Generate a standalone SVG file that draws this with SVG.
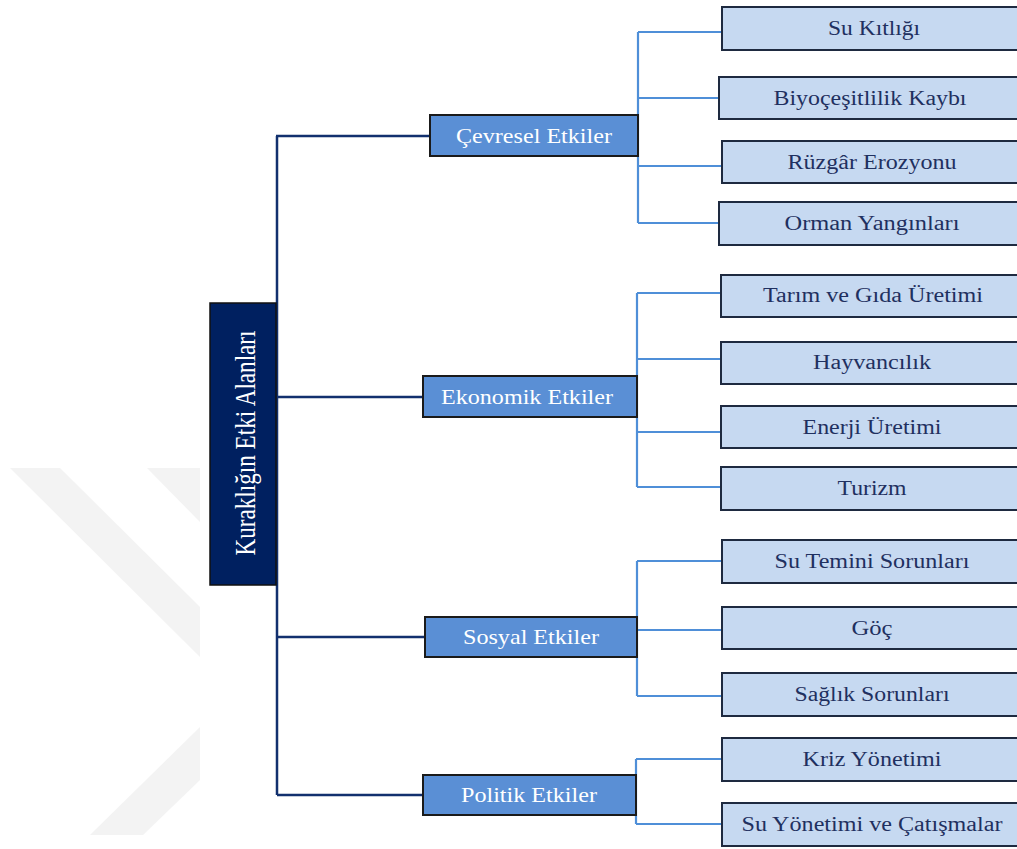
<svg xmlns="http://www.w3.org/2000/svg" width="1017" height="849" viewBox="0 0 1017 849">
<style>
.wm{fill:#f3f3f3}
.trunk{stroke:#12306e;stroke-width:2.5;fill:none}
.br{stroke:#4f8fd8;stroke-width:2.2;fill:none}
.root{fill:#002060;stroke:#111;stroke-width:1.5}
.l1{fill:#5a8fd5;stroke:#1a1a1a;stroke-width:2}
.leaf{fill:#c6d9f1;stroke:#1e2a40;stroke-width:2}
text{text-anchor:middle;dominant-baseline:central}
.tl{font-size:20px;fill:#1f3060}
.t1{font-size:21px;fill:#ffffff}
.tr{font-size:27px;fill:#ffffff}
</style>
<rect width="1017" height="849" fill="#ffffff"/>
<g id="watermark">
<polygon class="wm" points="10,468 60,468 200,607 200,657"/>
<polygon class="wm" points="147,468 200,468 200,522"/>
<polygon class="wm" points="200,727 200,780 143,835 90,835"/>
</g>
<g id="connectors">
<path class="trunk" d="M276,136 H277 V795 M277,136 H430 M277,397 H423 M277,637 H425 M277,795 H423"/>
<path class="br" d="M638,32 V223 M638,32 H722 M638,98 H719 M638,166 H722 M638,223 H719"/>
<path class="br" d="M637,293 V487 M637,293 H721 M637,359 H721 M637,432 H721 M637,487 H721"/>
<path class="br" d="M637,561 V696 M637,561 H722 M637,630 H722 M637,696 H722"/>
<path class="br" d="M636,759 V824 M636,759 H722 M636,824 H722"/>
</g>
<g font-family="'Liberation Serif', 'DejaVu Serif', serif">
<g id="root">
<rect class="root" x="210" y="303" width="66" height="282"/>
<text class="tr" transform="translate(245,443) scale(1.1,1) rotate(-90)" textLength="225" lengthAdjust="spacingAndGlyphs">Kuraklığın Etki Alanları</text>
</g>
<g id="cevresel">
<rect class="l1" x="430" y="115" width="208" height="41"/>
<text class="t1" x="534" y="136" textLength="156" lengthAdjust="spacingAndGlyphs">Çevresel Etkiler</text>
</g>
<g id="ekonomik">
<rect class="l1" x="423" y="376" width="214" height="41"/>
<text class="t1" x="527" y="397" textLength="172" lengthAdjust="spacingAndGlyphs">Ekonomik Etkiler</text>
</g>
<g id="sosyal">
<rect class="l1" x="425" y="617" width="212" height="40"/>
<text class="t1" x="531" y="637" textLength="136" lengthAdjust="spacingAndGlyphs">Sosyal Etkiler</text>
</g>
<g id="politik">
<rect class="l1" x="423" y="775" width="213" height="40"/>
<text class="t1" x="529" y="795" textLength="136" lengthAdjust="spacingAndGlyphs">Politik Etkiler</text>
</g>
<g id="su-kitligi"><rect class="leaf" x="722" y="7" width="300" height="43"/><text class="tl" x="874" y="28" textLength="92" lengthAdjust="spacingAndGlyphs">Su Kıtlığı</text></g>
<g id="biyocesitlilik"><rect class="leaf" x="719" y="77" width="303" height="42"/><text class="tl" x="870" y="98" textLength="193" lengthAdjust="spacingAndGlyphs">Biyoçeşitlilik Kaybı</text></g>
<g id="ruzgar"><rect class="leaf" x="722" y="141" width="300" height="42"/><text class="tl" x="872" y="162" textLength="169" lengthAdjust="spacingAndGlyphs">Rüzgâr Erozyonu</text></g>
<g id="orman"><rect class="leaf" x="719" y="202" width="303" height="43"/><text class="tl" x="872" y="223" textLength="175" lengthAdjust="spacingAndGlyphs">Orman Yangınları</text></g>
<g id="tarim"><rect class="leaf" x="721" y="275" width="301" height="42"/><text class="tl" x="873" y="295" textLength="220" lengthAdjust="spacingAndGlyphs">Tarım ve Gıda Üretimi</text></g>
<g id="hayvancilik"><rect class="leaf" x="721" y="342" width="301" height="42"/><text class="tl" x="872" y="362" textLength="118" lengthAdjust="spacingAndGlyphs">Hayvancılık</text></g>
<g id="enerji"><rect class="leaf" x="721" y="406" width="301" height="42"/><text class="tl" x="872" y="427" textLength="139" lengthAdjust="spacingAndGlyphs">Enerji Üretimi</text></g>
<g id="turizm"><rect class="leaf" x="721" y="467" width="301" height="43"/><text class="tl" x="872" y="488" textLength="69" lengthAdjust="spacingAndGlyphs">Turizm</text></g>
<g id="su-temini"><rect class="leaf" x="722" y="540" width="300" height="43"/><text class="tl" x="872" y="561" textLength="195" lengthAdjust="spacingAndGlyphs">Su Temini Sorunları</text></g>
<g id="goc"><rect class="leaf" x="722" y="607" width="300" height="42"/><text class="tl" x="872" y="628" textLength="41" lengthAdjust="spacingAndGlyphs">Göç</text></g>
<g id="saglik"><rect class="leaf" x="722" y="673" width="300" height="43"/><text class="tl" x="872" y="694" textLength="155" lengthAdjust="spacingAndGlyphs">Sağlık Sorunları</text></g>
<g id="kriz"><rect class="leaf" x="722" y="738" width="300" height="43"/><text class="tl" x="872" y="759" textLength="139" lengthAdjust="spacingAndGlyphs">Kriz Yönetimi</text></g>
<g id="su-yonetimi"><rect class="leaf" x="722" y="803" width="300" height="43"/><text class="tl" x="872" y="824" textLength="261" lengthAdjust="spacingAndGlyphs">Su Yönetimi ve Çatışmalar</text></g>
</g>
</svg>
